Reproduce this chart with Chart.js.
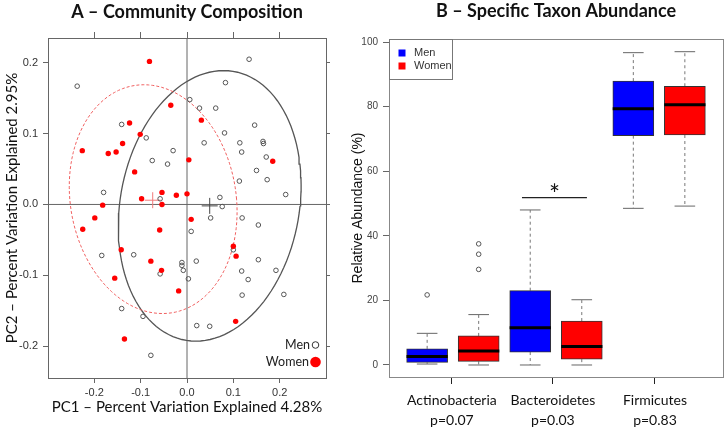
<!DOCTYPE html>
<html>
<head>
<meta charset="utf-8">
<script src="https://cdn.jsdelivr.net/npm/chart.js@4.4.1/dist/chart.umd.min.js"></script>
<style>
    body { margin: 0; background: #fff; }
    canvas { position: absolute; top: 0; }
</style>
</head>
<body>
<canvas id="chartA" width="335" height="431" style="left:0"></canvas>
<canvas id="chartB" width="393" height="431" style="left:335px"></canvas>
<script>
// ---- Panel A: PC scores ----
const pcRangeX = [-0.3, 0.3];
const pcRangeY = [-0.245, 0.235];
const pcTicks = [-0.2, -0.1, 0.0, 0.1, 0.2];

const menPC1 = [-0.237, 0.134, 0.083, 0.006, 0.027, 0.062, -0.141, -0.088, 0.081, 0.146, 0.037, 0.114, 0.164, 0.165,
    -0.030, 0.118, -0.075, -0.042, 0.171, 0.150, 0.173, 0.113, 0.213, -0.180, 0.071, -0.058, 0.076,
    0.051, 0.119, 0.154, 0.009, -0.184, -0.115, 0.020, -0.011, -0.011, -0.008, -0.058, 0.003, 0.100, 0.154,
    0.118, 0.192, 0.132, 0.119, 0.209, -0.141, -0.095, 0.021, 0.049, -0.078];
const menPC2 = [0.167, 0.205, 0.172, 0.148, 0.136, 0.136, 0.113, 0.094, 0.101, 0.112, 0.087, 0.087, 0.089, 0.086,
    0.076, 0.074, 0.062, 0.057, 0.067, 0.048, 0.035, 0.033, 0.014, 0.017, 0.010, 0.008, -0.003,
    -0.019, -0.019, -0.029, -0.038, -0.072, -0.071, -0.080, -0.082, -0.086, -0.093, -0.098, -0.105, -0.064, -0.078,
    -0.094, -0.093, -0.106, -0.128, -0.127, -0.147, -0.158, -0.171, -0.172, -0.213];

const womenPC1 = [-0.081, -0.035, 0.031, -0.124, -0.101, -0.226, -0.170, -0.153, -0.139, -0.113, 0.004, 0.185,
    -0.098, -0.054, -0.023, 0.000, -0.054, -0.182, -0.199, 0.009,
    -0.225, -0.059, -0.142, -0.078, -0.055, -0.156, -0.018, 0.100, 0.106, 0.105, -0.135];
const womenPC2 = [0.202, 0.140, 0.119, 0.115, 0.099, 0.076, 0.072, 0.074, 0.086, 0.046, 0.063, 0.061,
    0.008, 0.017, 0.013, 0.015, 0.000, -0.001, -0.019, -0.021,
    -0.035, -0.036, -0.064, -0.080, -0.093, -0.104, -0.122, -0.059, -0.073, -0.165, -0.190];

const menCentre = [0.049, -0.002];
const womenCentre = [-0.074, 0.006];
// centre x, centre y, half width, half height, tilt
const menEllipse = [0.049, -0.002, 0.195, 0.191, 0.030];
const womenEllipse = [-0.073, 0.0075, 0.180, 0.1615, -0.020];

// ---- Panel B: taxon abundance ----
const taxa = ['Actinobacteria', 'Bacteroidetes', 'Firmicutes'];
const pValues = ['p=0.07', 'p=0.03', 'p=0.83'];
const taxonTicks = [1.48, 3.44, 5.42];
const abundanceTicks = [0, 20, 40, 60, 80, 100];
const menPos = [1, 3, 5];
const womenPos = [2, 4, 6];

const menMin = [0.3, 0.0, 48.5];
const menQ1 = [0.8, 4.0, 71.0];
const menMedian = [2.6, 11.5, 79.3];
const menQ3 = [5.0, 23.0, 87.9];
const menMax = [9.8, 48.0, 96.7];
const menOutliers = [[21.7], [], []];

const womenMin = [0.0, 0.0, 49.2];
const womenQ1 = [1.1, 1.8, 71.2];
const womenMedian = [4.3, 5.7, 80.6];
const womenQ3 = [9.0, 13.6, 86.3];
const womenMax = [15.6, 20.2, 97.0];
const womenOutliers = [[29.6, 34.3, 37.5], [], []];

const sigLine = [2.84, 4.10, 51.8];

Chart.defaults.font.family = "'Liberation Sans', Arial, sans-serif";
Chart.defaults.color = '#333';

const xy = (xs, ys) => xs.map((x, i) => ({x: x, y: ys[i]}));

function ellipsePoints(e) {
    const pts = [];
    for (let k = 0; k <= 120; k++) {
        const t = k / 120 * 2 * Math.PI;
        pts.push({x: e[0] + e[2] * Math.cos(t) + e[4] * Math.sin(t), y: e[1] + e[3] * Math.sin(t)});
    }
    return pts;
}

function whiskers(pos, lo, q1, q3, hi) {
    const pts = [];
    pos.forEach((p, i) => {
        pts.push({x: p, y: q3[i]}, {x: p, y: hi[i]}, {x: p, y: null});
        pts.push({x: p, y: q1[i]}, {x: p, y: lo[i]}, {x: p, y: null});
    });
    return pts;
}

function segments(pos, vals, half) {
    const pts = [];
    pos.forEach((p, i) => {
        pts.push({x: p - half, y: vals[i]}, {x: p + half, y: vals[i]}, {x: p, y: null});
    });
    return pts;
}

function outliers(pos, list) {
    const pts = [];
    pos.forEach((p, i) => list[i].forEach(v => pts.push({x: p, y: v})));
    return pts;
}

const fixedTicks = vals => scale => { scale.ticks = vals.map(v => ({value: v})); };

// ---------- Chart A ----------
const legendA = {
    id: 'legendA',
    afterDraw(chart) {
        const {ctx, chartArea: ca} = chart;
        ctx.save();
        ctx.font = "12.5px Lato";
        ctx.fillStyle = '#222';
        ctx.textAlign = 'right';
        ctx.textBaseline = 'middle';
        ctx.fillText('Men', ca.right - 16, ca.bottom - 33);
        ctx.fillText('Women', ca.right - 17, ca.bottom - 16);
        ctx.beginPath();
        ctx.arc(ca.right - 10.5, ca.bottom - 33, 3.3, 0, 2 * Math.PI);
        ctx.strokeStyle = '#333';
        ctx.lineWidth = 1;
        ctx.stroke();
        ctx.beginPath();
        ctx.arc(ca.right - 10.5, ca.bottom - 16, 5.3, 0, 2 * Math.PI);
        ctx.fillStyle = '#ff0000';
        ctx.fill();
        ctx.restore();
    }
};

new Chart(document.getElementById('chartA'), {
    type: 'scatter',
    data: {
        datasets: [
            {
                label: 'Women',
                data: xy(womenPC1, womenPC2),
                pointRadius: 2.7,
                pointBackgroundColor: '#ff0000',
                pointBorderWidth: 0
            },
            {
                label: 'Men',
                data: xy(menPC1, menPC2),
                pointRadius: 2.3,
                pointBackgroundColor: 'rgba(0,0,0,0)',
                pointBorderColor: '#555',
                pointBorderWidth: 1
            },
            {
                data: [{x: womenCentre[0], y: womenCentre[1]}],
                pointStyle: 'cross',
                pointRadius: 8,
                pointBorderColor: '#f07a7a',
                pointBorderWidth: 1
            },
            {
                data: [{x: menCentre[0], y: menCentre[1]}],
                pointStyle: 'cross',
                pointRadius: 8,
                pointBorderColor: '#444',
                pointBorderWidth: 1
            },
            {
                data: ellipsePoints(womenEllipse),
                showLine: true,
                pointRadius: 0,
                borderColor: '#f06060',
                borderWidth: 1,
                borderDash: [3, 2]
            },
            {
                data: ellipsePoints(menEllipse),
                showLine: true,
                pointRadius: 0,
                borderColor: '#555',
                borderWidth: 1.3
            },
            {
                data: [{x: pcRangeX[0], y: 0}, {x: pcRangeX[1], y: 0}, {x: 0, y: null},
                       {x: 0, y: pcRangeY[0]}, {x: 0, y: pcRangeY[1]}],
                showLine: true,
                pointRadius: 0,
                borderColor: '#666',
                borderWidth: 1
            }
        ]
    },
    options: {
        responsive: false,
        animation: false,
        devicePixelRatio: 1,
        layout: {padding: 0},
        plugins: {
            legend: {display: false},
            tooltip: {enabled: false},
            title: {
                display: true,
                fullSize: false,
                text: 'A \u2013 Community Composition',
                color: '#111',
                font: {family: 'Lato', size: 18, weight: 'bold'},
                padding: {top: 1.2, bottom: 9.2}
            }
        },
        scales: {
            x: {
                type: 'linear', position: 'bottom',
                min: pcRangeX[0], max: pcRangeX[1],
                afterBuildTicks: fixedTicks(pcTicks),
                afterFit: s => { s.height = 53; },
                ticks: {font: {size: 11}, padding: 3, color: '#333', callback: v => v.toFixed(1)},
                grid: {drawOnChartArea: false, tickLength: 5, color: '#666'},
                border: {color: '#666'},
                title: {
                    display: true,
                    text: 'PC1 \u2013 Percent Variation Explained 4.28%',
                    color: '#111',
                    font: {family: 'Lato', size: 15},
                    padding: {top: 0, bottom: 15}
                }
            },
            x2: {
                type: 'linear', position: 'top',
                min: pcRangeX[0], max: pcRangeX[1],
                afterBuildTicks: fixedTicks(pcTicks),
                afterFit: s => { s.height = 6; },
                ticks: {display: false},
                grid: {drawOnChartArea: false, tickLength: 6, color: '#666'},
                border: {color: '#666'}
            },
            y: {
                type: 'linear', position: 'left',
                min: pcRangeY[0], max: pcRangeY[1],
                afterBuildTicks: fixedTicks(pcTicks),
                afterFit: s => { s.width = 48; },
                ticks: {font: {size: 11}, padding: 5, color: '#333', callback: v => v.toFixed(1)},
                grid: {drawOnChartArea: false, tickLength: 5, color: '#666'},
                border: {color: '#666'},
                title: {
                    display: true,
                    text: 'PC2 \u2013 Percent Variation Explained 2.95%',
                    color: '#111',
                    font: {family: 'Lato', size: 15},
                    padding: {top: 3, bottom: 0}
                }
            },
            y2: {
                type: 'linear', position: 'right',
                min: pcRangeY[0], max: pcRangeY[1],
                afterBuildTicks: fixedTicks(pcTicks),
                afterFit: s => { s.width = 4; },
                ticks: {display: false},
                grid: {drawOnChartArea: false, tickLength: 4, color: '#666'},
                border: {color: '#666'}
            }
        }
    },
    plugins: [legendA]
});

// ---------- Chart B ----------
const legendB = {
    id: 'legendB',
    afterDraw(chart) {
        const {ctx, chartArea: ca, scales} = chart;
        ctx.save();
        ctx.strokeStyle = '#777';
        ctx.lineWidth = 1;
        ctx.strokeRect(ca.left + 0.5, ca.top + 0.5, 63, 40);
        ctx.fillStyle = '#0000ff';
        ctx.fillRect(ca.left + 9.5, ca.top + 10.5, 7, 7);
        ctx.fillStyle = '#ff0000';
        ctx.fillRect(ca.left + 9.5, ca.top + 23.5, 7, 7);
        ctx.fillStyle = '#333';
        ctx.font = "11px 'Liberation Sans'";
        ctx.textAlign = 'left';
        ctx.textBaseline = 'middle';
        ctx.fillText('Men', ca.left + 25, ca.top + 14);
        ctx.fillText('Women', ca.left + 25, ca.top + 27);
        // significance star
        ctx.fillStyle = '#111';
        ctx.font = "26px Lato";
        ctx.textAlign = 'center';
        ctx.textBaseline = 'alphabetic';
        ctx.fillText('*', scales.x.getPixelForValue((sigLine[0] + sigLine[1]) / 2),
            scales.y.getPixelForValue(sigLine[2]) + 6);
        ctx.restore();
    }
};

const boxStyle = {
    type: 'bar',
    barThickness: 41,
    grouped: false,
    borderSkipped: false,
    borderColor: '#333',
    borderWidth: 1,
    order: 2
};

new Chart(document.getElementById('chartB'), {
    type: 'bar',
    data: {
        datasets: [
            {
                type: 'line',
                data: segments(menPos, menMedian, 0.4).concat(segments(womenPos, womenMedian, 0.4)),
                borderColor: '#000',
                borderWidth: 3,
                pointRadius: 0,
                order: 0
            },
            Object.assign({
                label: 'Men',
                data: menPos.map((p, i) => ({x: p, y: [menQ1[i], menQ3[i]]})),
                backgroundColor: '#0000ff'
            }, boxStyle),
            Object.assign({
                label: 'Women',
                data: womenPos.map((p, i) => ({x: p, y: [womenQ1[i], womenQ3[i]]})),
                backgroundColor: '#ff0000'
            }, boxStyle),
            {
                type: 'line',
                data: whiskers(menPos, menMin, menQ1, menQ3, menMax)
                    .concat(whiskers(womenPos, womenMin, womenQ1, womenQ3, womenMax)),
                borderColor: '#777',
                borderWidth: 1,
                borderDash: [3, 3],
                pointRadius: 0,
                order: 3
            },
            {
                type: 'line',
                data: segments(menPos, menMax, 0.2).concat(segments(menPos, menMin, 0.2),
                    segments(womenPos, womenMax, 0.2), segments(womenPos, womenMin, 0.2)),
                borderColor: '#666',
                borderWidth: 1,
                pointRadius: 0,
                order: 3
            },
            {
                type: 'line',
                data: outliers(menPos, menOutliers).concat(outliers(womenPos, womenOutliers)),
                showLine: false,
                pointRadius: 2.3,
                pointBackgroundColor: 'rgba(0,0,0,0)',
                pointBorderColor: '#555',
                pointBorderWidth: 1,
                order: 1
            },
            {
                type: 'line',
                data: [{x: sigLine[0], y: sigLine[2]}, {x: sigLine[1], y: sigLine[2]}],
                borderColor: '#222',
                borderWidth: 1.3,
                pointRadius: 0,
                order: 1
            }
        ]
    },
    options: {
        responsive: false,
        animation: false,
        devicePixelRatio: 1,
        layout: {padding: 0},
        plugins: {
            legend: {display: false},
            tooltip: {enabled: false},
            title: {
                display: true,
                fullSize: false,
                text: 'B \u2013 Specific Taxon Abundance',
                color: '#111',
                font: {family: 'Lato', size: 18, weight: 'bold'},
                padding: {top: 0.2, bottom: 17.2}
            }
        },
        scales: {
            x: {
                type: 'linear', position: 'bottom',
                min: 0.26, max: 6.74,
                offset: false,
                afterBuildTicks: fixedTicks(taxonTicks),
                afterFit: s => { s.height = 54; },
                ticks: {
                    font: {family: 'Lato', size: 14, lineHeight: 1.43},
                    color: '#111',
                    padding: 6,
                    maxRotation: 0,
                    autoSkip: false,
                    callback: (v, i) => [taxa[i], pValues[i]]
                },
                grid: {drawOnChartArea: false, offset: false, tickLength: 7, color: '#222'},
                border: {color: '#888'}
            },
            x2: {
                type: 'linear', position: 'top',
                min: 0.26, max: 6.74,
                afterFit: s => { s.height = 0; },
                ticks: {display: false},
                grid: {display: false},
                border: {color: '#888'}
            },
            y: {
                type: 'linear', position: 'left',
                min: -3.72, max: 100.93,
                afterBuildTicks: fixedTicks(abundanceTicks),
                afterFit: s => { s.width = 54; },
                ticks: {font: {size: 10}, padding: 5, color: '#444'},
                grid: {drawOnChartArea: false, tickLength: 6, color: '#666'},
                border: {color: '#888'},
                title: {
                    display: true,
                    text: 'Relative Abundance (%)',
                    color: '#111',
                    font: {size: 14},
                    padding: {top: 14.6, bottom: 0}
                }
            },
            y2: {
                type: 'linear', position: 'right',
                min: -3.72, max: 100.93,
                afterFit: s => { s.width = 5; },
                ticks: {display: false},
                grid: {display: false},
                border: {color: '#888'}
            }
        }
    },
    plugins: [legendB]
});
</script>
</body>
</html>
